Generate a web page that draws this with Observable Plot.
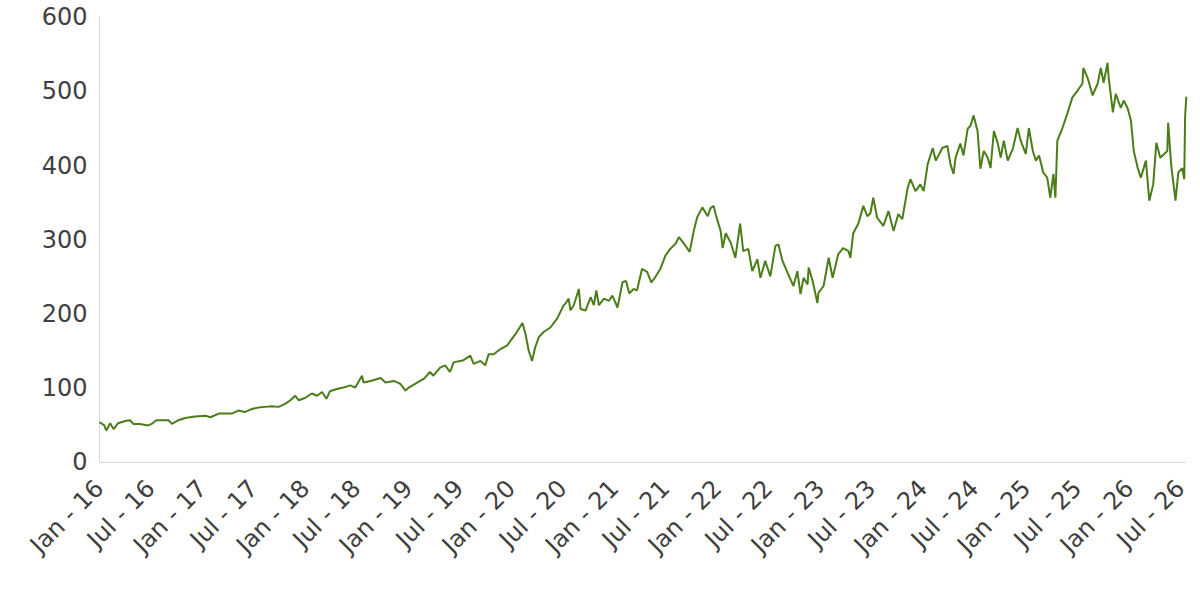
<!DOCTYPE html>
<html>
<head>
<meta charset="utf-8">
<script src="https://cdn.jsdelivr.net/npm/d3@7"></script>
<script src="https://cdn.jsdelivr.net/npm/@observablehq/plot@0.6"></script>
<style>
  html, body { margin: 0; padding: 0; background: #ffffff; }
  #chart { width: 1200px; height: 600px; }
</style>
</head>
<body>
<div id="chart"></div>
<script>
// Series: dates and values
const dates = [
  "2016-01-03","2016-01-18","2016-01-25","2016-02-08","2016-02-20","2016-03-07","2016-04-01","2016-04-18",
  "2016-04-30","2016-05-23","2016-06-22","2016-07-04","2016-07-21","2016-09-02","2016-09-14","2016-10-07",
  "2016-10-31","2016-12-05","2017-01-11","2017-01-28","2017-02-27","2017-04-14","2017-05-07","2017-05-30",
  "2017-06-23","2017-07-17","2017-08-10","2017-09-03","2017-09-27","2017-10-20","2017-11-08","2017-11-25",
  "2017-12-07","2017-12-30","2018-01-23","2018-02-11","2018-02-28","2018-03-16","2018-03-28","2018-04-22",
  "2018-05-15","2018-06-09","2018-06-26","2018-07-20","2018-07-25","2018-08-19","2018-09-24","2018-10-11",
  "2018-11-10","2018-12-03","2018-12-21","2019-01-02","2019-02-02","2019-02-25","2019-03-18","2019-03-30",
  "2019-04-23","2019-05-11","2019-05-28","2019-06-10","2019-07-15","2019-08-08","2019-08-20","2019-09-13",
  "2019-09-30","2019-10-12","2019-10-30","2019-11-23","2019-12-17","2020-01-15","2020-02-09","2020-02-20",
  "2020-03-02","2020-03-14","2020-03-25","2020-04-07","2020-04-24","2020-05-18","2020-06-11","2020-07-04",
  "2020-07-10","2020-07-22","2020-07-28","2020-08-09","2020-08-27","2020-09-02","2020-09-20","2020-10-08",
  "2020-10-19","2020-10-28","2020-11-06","2020-11-24","2020-12-12","2020-12-24","2021-01-11","2021-01-29",
  "2021-02-10","2021-02-22","2021-03-09","2021-03-21","2021-04-08","2021-04-26","2021-05-11","2021-05-25",
  "2021-06-12","2021-06-30","2021-07-17","2021-08-05","2021-08-17","2021-09-04","2021-09-24","2021-10-09",
  "2021-10-21","2021-11-08","2021-11-27","2021-12-07","2021-12-18","2021-12-25","2022-01-12","2022-01-19",
  "2022-01-30","2022-02-17","2022-03-05","2022-03-22","2022-04-02","2022-04-20","2022-05-04","2022-05-22",
  "2022-06-02","2022-06-19","2022-07-07","2022-07-25","2022-08-05","2022-08-19","2022-09-06","2022-09-27",
  "2022-10-11","2022-10-22","2022-11-02","2022-11-16","2022-11-20","2022-12-04","2022-12-21","2022-12-25",
  "2023-01-12","2023-01-30","2023-02-13","2023-03-05","2023-03-22","2023-04-10","2023-04-17","2023-04-27",
  "2023-05-15","2023-06-02","2023-06-16","2023-06-27","2023-07-07","2023-07-21","2023-08-12","2023-08-30",
  "2023-09-17","2023-10-04","2023-10-18","2023-11-06","2023-11-16","2023-12-04","2023-12-21","2024-01-02",
  "2024-01-16","2024-02-03","2024-02-14","2024-03-08","2024-03-26","2024-04-06","2024-04-17","2024-04-24",
  "2024-05-11","2024-05-22","2024-06-06","2024-06-16","2024-06-27","2024-07-11","2024-07-21","2024-08-02",
  "2024-08-16","2024-08-26","2024-09-07","2024-09-21","2024-10-01","2024-10-12","2024-10-26","2024-11-13",
  "2024-11-30","2024-12-11","2024-12-29","2025-01-09","2025-01-23","2025-02-03","2025-02-14","2025-03-01",
  "2025-03-15","2025-03-26","2025-04-06","2025-04-13","2025-04-20","2025-05-08","2025-05-25","2025-06-12",
  "2025-06-30","2025-07-18","2025-07-21","2025-08-05","2025-08-23","2025-09-10","2025-09-21","2025-10-01",
  "2025-10-15","2025-10-19","2025-11-03","2025-11-13","2025-12-01","2025-12-11","2025-12-25","2026-01-06",
  "2026-01-16","2026-01-30","2026-02-10","2026-02-28","2026-03-12","2026-03-26","2026-04-06","2026-04-20",
  "2026-05-15","2026-05-18","2026-05-29","2026-06-13","2026-06-23","2026-07-07","2026-07-14","2026-07-17",
  "2026-07-21"
];
const values = [
  54,50,43,53,45,53,56,57,
  52,52,50,52,57,57,52,57,
  60,62,63,61,66,66,70,68,
  72,74,75,76,75,79,84,90,
  84,87,93,90,95,86,96,99,
  101,104,101,117,108,110,114,108,
  110,106,97,101,108,113,122,117,
  128,131,122,135,138,144,133,137,
  131,146,146,153,158,173,188,173,
  151,137,155,169,176,182,194,212,
  214,221,205,212,234,207,205,223,
  212,232,212,221,218,225,209,243,
  245,228,234,232,261,257,243,250,
  261,279,288,295,304,295,284,313,
  331,344,332,343,346,335,312,289,
  309,296,276,322,285,288,258,274,
  249,272,251,292,294,272,256,238,
  258,227,249,240,263,245,215,229,
  238,276,249,281,289,285,276,309,
  322,346,332,336,357,330,319,339,
  312,335,328,370,382,366,375,366,
  402,424,407,424,427,402,389,411,
  430,414,450,454,468,447,396,420,
  411,397,447,430,411,434,407,423,
  451,434,416,451,420,407,414,391,
  384,357,389,357,434,451,470,492,
  501,511,532,519,495,511,532,512,
  539,519,472,497,478,488,478,461,
  420,397,384,407,353,375,431,411,
  420,458,400,353,391,397,382,465,
  492
];
// Axis ticks
const yTicks = [0, 100, 200, 300, 400, 500, 600];
const xTickDates = [
  "2016-01-01","2016-07-01","2017-01-01","2017-07-01","2018-01-01","2018-07-01",
  "2019-01-01","2019-07-01","2020-01-01","2020-07-01","2021-01-01","2021-07-01",
  "2022-01-01","2022-07-01","2023-01-01","2023-07-01","2024-01-01","2024-07-01",
  "2025-01-01","2025-07-01","2026-01-01","2026-07-01"
];
const xTickLabels = [
  "Jan - 16","Jul - 16","Jan - 17","Jul - 17","Jan - 18","Jul - 18",
  "Jan - 19","Jul - 19","Jan - 20","Jul - 20","Jan - 21","Jul - 21",
  "Jan - 22","Jul - 22","Jan - 23","Jul - 23","Jan - 24","Jul - 24",
  "Jan - 25","Jul - 25","Jan - 26","Jul - 26"
];

const parse = d3.utcParse("%Y-%m-%d");
const data = dates.map((d, i) => ({date: parse(d), value: values[i]}));
const tickDates = xTickDates.map(parse);
const labelByTime = new Map(tickDates.map((d, i) => [+d, xTickLabels[i]]));
const x0 = parse("2016-01-01");
const x1 = parse("2026-07-22");

const chart = Plot.plot({
  width: 1200,
  height: 600,
  marginTop: 17,
  marginBottom: 138,
  marginLeft: 99,
  marginRight: 14,
  style: {fontFamily: "DejaVu Sans", fontSize: "24px", color: "#404040", background: "#ffffff"},
  x: {type: "utc", domain: [x0, x1]},
  y: {domain: [0, 600]},
  marks: [
    Plot.ruleX([x0], {y1: 0, y2: 600, stroke: "#d9d9d9", strokeWidth: 1}),
    Plot.ruleY([0], {x1: x0, x2: x1, stroke: "#d9d9d9", strokeWidth: 1}),
    Plot.axisY({ticks: yTicks, tickSize: 0, tickPadding: 12, label: null, fontSize: 24}),
    Plot.axisX({
      ticks: tickDates,
      tickFormat: d => labelByTime.get(+d),
      tickRotate: -45,
      tickSize: 0,
      tickPadding: 22,
      label: null,
      fontSize: 24
    }),
    Plot.line(data, {x: "date", y: "value", stroke: "#4b7d19", strokeWidth: 2, strokeLinejoin: "miter"})
  ]
});
document.getElementById("chart").appendChild(chart);
</script>
</body>
</html>
